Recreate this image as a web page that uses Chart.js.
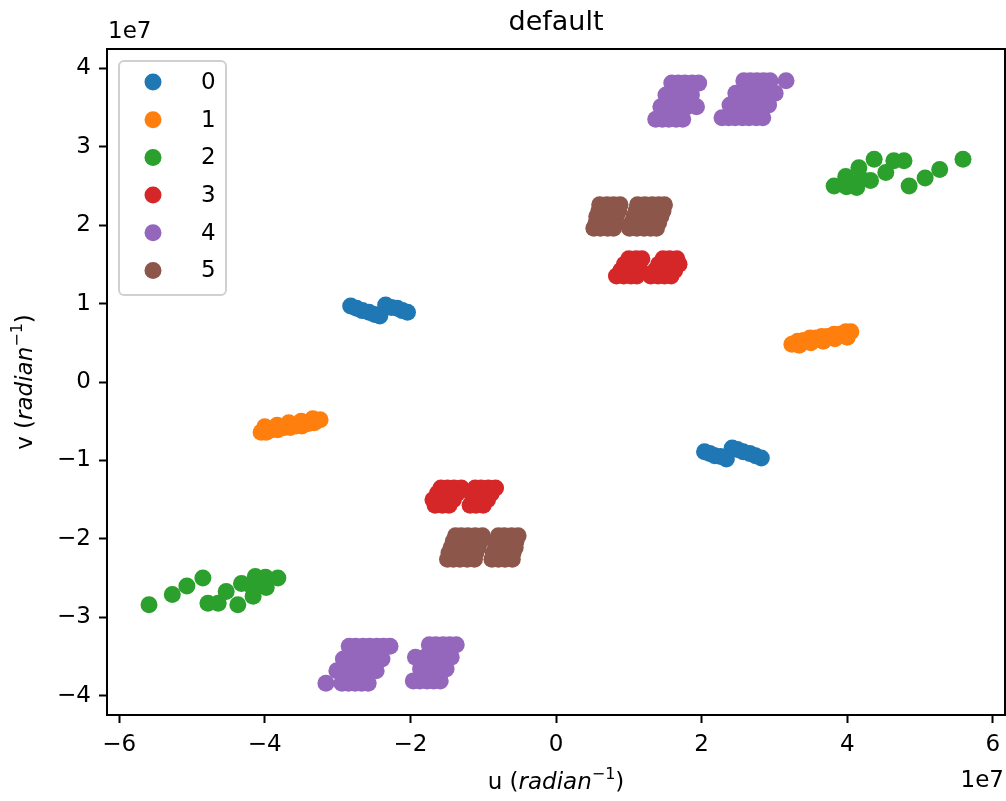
<!DOCTYPE html>
<html>
<head>
<meta charset="utf-8">
<script src="https://cdn.jsdelivr.net/npm/chart.js@4/dist/chart.umd.min.js"></script>
<style>
  html, body { margin: 0; padding: 0; background: #fff; }
  #wrap { width: 1006px; height: 801px; position: relative; }
</style>
</head>
<body>
<div id="wrap"><canvas id="c" width="1006" height="801"></canvas></div>
<script>
// uv coverage per baseline group, in units of 1e7 radian^-1
const seriesLabels = ['0', '1', '2', '3', '4', '5'];
const seriesColors = ['#1f77b4', '#ff7f0e', '#2ca02c', '#d62728', '#9467bd', '#8c564b'];
const xTicks = [-6, -4, -2, 0, 2, 4, 6];
const yTicks = [-4, -3, -2, -1, 0, 1, 2, 3, 4];
const titleText = 'default';
const offsetText = '1e7';

const uv0 = [
  [-2.82, 0.97], [-2.74, 0.94], [-2.66, 0.91], [-2.57, 0.89], [-2.49, 0.86], [-2.42, 0.84],
  [-2.34, 0.98], [-2.26, 0.95], [-2.18, 0.94], [-2.11, 0.91], [-2.04, 0.89],
  [2.82, -0.97], [2.74, -0.94], [2.66, -0.91], [2.57, -0.89], [2.49, -0.86], [2.42, -0.84],
  [2.34, -0.98], [2.26, -0.95], [2.18, -0.94], [2.11, -0.91], [2.04, -0.89]
];

const uv1 = [
  [3.24, 0.48], [3.32, 0.52], [3.40, 0.53], [3.49, 0.56], [3.57, 0.56], [3.65, 0.58],
  [3.73, 0.58], [3.82, 0.61], [3.90, 0.61], [3.98, 0.64], [4.05, 0.64],
  [3.34, 0.47], [3.50, 0.50], [3.67, 0.52], [3.83, 0.55], [4.00, 0.57],
  [-3.24, -0.48], [-3.32, -0.52], [-3.40, -0.53], [-3.49, -0.56], [-3.57, -0.56], [-3.65, -0.58],
  [-3.73, -0.58], [-3.82, -0.61], [-3.90, -0.61], [-3.98, -0.64], [-4.05, -0.64],
  [-3.34, -0.47], [-3.50, -0.50], [-3.67, -0.52], [-3.83, -0.55], [-4.00, -0.57]
];

const uv2 = [
  [3.82, 2.50], [3.98, 2.62], [4.16, 2.73], [4.37, 2.84], [4.13, 2.48], [4.32, 2.57],
  [4.53, 2.67], [4.64, 2.82], [4.78, 2.82], [4.85, 2.50], [5.07, 2.60], [5.27, 2.71],
  [5.59, 2.84], [3.99, 2.49], [4.19, 2.59],
  [-3.82, -2.50], [-3.98, -2.62], [-4.16, -2.73], [-4.37, -2.84], [-4.13, -2.48], [-4.32, -2.57],
  [-4.53, -2.67], [-4.64, -2.82], [-4.78, -2.82], [-4.85, -2.50], [-5.07, -2.60], [-5.27, -2.71],
  [-5.59, -2.84], [-3.99, -2.49], [-4.19, -2.59]
];

const uv3 = [
  [0.83, 1.35], [0.93, 1.35], [1.03, 1.35], [1.11, 1.35],
  [0.89, 1.42], [0.99, 1.42], [1.08, 1.42], [1.16, 1.42],
  [0.94, 1.50], [1.04, 1.50], [1.14, 1.50],
  [1.00, 1.57], [1.10, 1.57], [1.18, 1.57],
  [1.30, 1.35], [1.40, 1.35], [1.49, 1.35], [1.58, 1.35],
  [1.36, 1.42], [1.45, 1.42], [1.55, 1.42], [1.63, 1.42],
  [1.41, 1.50], [1.51, 1.50], [1.60, 1.50], [1.69, 1.50],
  [1.47, 1.57], [1.56, 1.57], [1.66, 1.57],
  [-0.83, -1.35], [-0.93, -1.35], [-1.03, -1.35], [-1.11, -1.35],
  [-0.89, -1.42], [-0.99, -1.42], [-1.08, -1.42], [-1.16, -1.42],
  [-0.94, -1.50], [-1.04, -1.50], [-1.14, -1.50],
  [-1.00, -1.57], [-1.10, -1.57], [-1.18, -1.57],
  [-1.30, -1.35], [-1.40, -1.35], [-1.49, -1.35], [-1.58, -1.35],
  [-1.36, -1.42], [-1.45, -1.42], [-1.55, -1.42], [-1.63, -1.42],
  [-1.41, -1.50], [-1.51, -1.50], [-1.60, -1.50], [-1.69, -1.50],
  [-1.47, -1.57], [-1.56, -1.57], [-1.66, -1.57]
];

const uv4 = [
  [1.59, 3.81], [1.68, 3.81], [1.77, 3.81], [1.87, 3.81], [1.96, 3.81],
  [1.51, 3.66], [1.60, 3.66], [1.69, 3.66], [1.78, 3.66], [1.86, 3.66],
  [1.44, 3.51], [1.53, 3.51], [1.62, 3.51], [1.71, 3.51], [1.80, 3.51], [1.93, 3.51],
  [1.37, 3.35], [1.46, 3.35], [1.55, 3.35], [1.65, 3.35], [1.74, 3.35],
  [2.58, 3.84], [2.67, 3.84], [2.76, 3.84], [2.85, 3.84], [2.94, 3.84], [3.16, 3.84],
  [2.47, 3.68], [2.56, 3.68], [2.65, 3.68], [2.74, 3.68], [2.83, 3.68], [2.92, 3.68], [3.01, 3.68],
  [2.39, 3.53], [2.48, 3.53], [2.57, 3.53], [2.66, 3.53], [2.74, 3.53], [2.83, 3.53], [2.92, 3.53],
  [2.28, 3.37], [2.37, 3.37], [2.46, 3.37], [2.56, 3.37], [2.65, 3.37], [2.75, 3.37], [2.84, 3.37],
  [-1.59, -3.81], [-1.68, -3.81], [-1.77, -3.81], [-1.87, -3.81], [-1.96, -3.81],
  [-1.51, -3.66], [-1.60, -3.66], [-1.69, -3.66], [-1.78, -3.66], [-1.86, -3.66],
  [-1.44, -3.51], [-1.53, -3.51], [-1.62, -3.51], [-1.71, -3.51], [-1.80, -3.51], [-1.93, -3.51],
  [-1.37, -3.35], [-1.46, -3.35], [-1.55, -3.35], [-1.65, -3.35], [-1.74, -3.35],
  [-2.58, -3.84], [-2.67, -3.84], [-2.76, -3.84], [-2.85, -3.84], [-2.94, -3.84], [-3.16, -3.84],
  [-2.47, -3.68], [-2.56, -3.68], [-2.65, -3.68], [-2.74, -3.68], [-2.83, -3.68], [-2.92, -3.68], [-3.01, -3.68],
  [-2.39, -3.53], [-2.48, -3.53], [-2.57, -3.53], [-2.66, -3.53], [-2.74, -3.53], [-2.83, -3.53], [-2.92, -3.53],
  [-2.28, -3.37], [-2.37, -3.37], [-2.46, -3.37], [-2.56, -3.37], [-2.65, -3.37], [-2.75, -3.37], [-2.84, -3.37]
];

const uv5 = [
  [0.52, 1.96], [0.61, 1.96], [0.71, 1.96], [0.79, 1.96],
  [0.55, 2.03], [0.64, 2.03], [0.74, 2.03], [0.82, 2.03],
  [0.56, 2.11], [0.66, 2.11], [0.75, 2.11], [0.83, 2.11],
  [0.59, 2.18], [0.68, 2.18], [0.78, 2.18], [0.86, 2.18],
  [0.60, 2.26], [0.70, 2.26], [0.79, 2.26], [0.88, 2.26],
  [1.01, 1.96], [1.11, 1.96], [1.21, 1.96], [1.30, 1.96], [1.38, 1.96],
  [1.04, 2.03], [1.14, 2.03], [1.23, 2.03], [1.33, 2.03], [1.41, 2.03],
  [1.07, 2.11], [1.16, 2.11], [1.26, 2.11], [1.36, 2.11], [1.44, 2.11],
  [1.10, 2.18], [1.19, 2.18], [1.29, 2.18], [1.38, 2.18], [1.47, 2.18],
  [1.12, 2.26], [1.22, 2.26], [1.32, 2.26], [1.41, 2.26], [1.49, 2.26],
  [-0.52, -1.96], [-0.61, -1.96], [-0.71, -1.96], [-0.79, -1.96],
  [-0.55, -2.03], [-0.64, -2.03], [-0.74, -2.03], [-0.82, -2.03],
  [-0.56, -2.11], [-0.66, -2.11], [-0.75, -2.11], [-0.83, -2.11],
  [-0.59, -2.18], [-0.68, -2.18], [-0.78, -2.18], [-0.86, -2.18],
  [-0.60, -2.26], [-0.70, -2.26], [-0.79, -2.26], [-0.88, -2.26],
  [-1.01, -1.96], [-1.11, -1.96], [-1.21, -1.96], [-1.30, -1.96], [-1.38, -1.96],
  [-1.04, -2.03], [-1.14, -2.03], [-1.23, -2.03], [-1.33, -2.03], [-1.41, -2.03],
  [-1.07, -2.11], [-1.16, -2.11], [-1.26, -2.11], [-1.36, -2.11], [-1.44, -2.11],
  [-1.10, -2.18], [-1.19, -2.18], [-1.29, -2.18], [-1.38, -2.18], [-1.47, -2.18],
  [-1.12, -2.26], [-1.22, -2.26], [-1.32, -2.26], [-1.41, -2.26], [-1.49, -2.26]
];

const seriesPoints = [uv0, uv1, uv2, uv3, uv4, uv5];

const FONT = '"DejaVu Sans", "Liberation Sans", sans-serif';
const TICK_SIZE = 23;
const POINT_R = 8.5;

function fmtTick(v) {
  return v < 0 ? '\u2212' + Math.abs(v) : String(v);
}

function drawParts(ctx, parts, x, y) {
  let total = 0;
  parts.forEach(p => { ctx.font = p.font; p.w = ctx.measureText(p.t).width; total += p.w; });
  let cx = x - total / 2;
  ctx.textAlign = 'left';
  ctx.textBaseline = 'alphabetic';
  parts.forEach(p => { ctx.font = p.font; ctx.fillText(p.t, cx, y + (p.dy || 0)); cx += p.w; });
}

function labelParts(letter) {
  return [
    { t: letter + ' (', font: TICK_SIZE + 'px ' + FONT },
    { t: 'radian', font: 'italic ' + TICK_SIZE + 'px ' + FONT },
    { t: '\u22121', font: '16px ' + FONT, dy: -10 },
    { t: ')', font: TICK_SIZE + 'px ' + FONT }
  ];
}

// frame, title, offset text, axis labels and legend
const decorations = {
  id: 'decorations',
  afterDraw(chart) {
    const ctx = chart.ctx;
    const a = chart.chartArea;
    ctx.save();
    ctx.strokeStyle = '#000';
    ctx.lineWidth = 2;
    ctx.strokeRect(a.left, a.top, a.right - a.left, a.bottom - a.top);

    ctx.fillStyle = '#000';
    ctx.textAlign = 'center';
    ctx.textBaseline = 'alphabetic';
    ctx.font = '27px ' + FONT;
    ctx.fillText(titleText, (a.left + a.right) / 2, 30);

    ctx.font = TICK_SIZE + 'px ' + FONT;
    ctx.textAlign = 'left';
    ctx.fillText(offsetText, a.left + 1, 38);
    ctx.textAlign = 'right';
    ctx.fillText(offsetText, a.right - 1, 787);

    drawParts(ctx, labelParts('u'), (a.left + a.right) / 2, 789);

    ctx.save();
    ctx.translate(24, (a.top + a.bottom) / 2);
    ctx.rotate(-Math.PI / 2);
    drawParts(ctx, labelParts('v'), 0, 8);
    ctx.restore();

    // legend box
    const bx = a.left + 12, by = a.top + 12, bw = 107, bh = 234;
    ctx.beginPath();
    ctx.roundRect(bx, by, bw, bh, 5);
    ctx.fillStyle = 'rgba(255,255,255,0.8)';
    ctx.fill();
    ctx.strokeStyle = '#d0d0d0';
    ctx.lineWidth = 2;
    ctx.stroke();
    ctx.font = TICK_SIZE + 'px ' + FONT;
    ctx.textAlign = 'left';
    ctx.textBaseline = 'middle';
    seriesLabels.forEach((lab, i) => {
      const yy = by + 21 + i * 37.7;
      ctx.beginPath();
      ctx.arc(bx + 34, yy, POINT_R, 0, Math.PI * 2);
      ctx.fillStyle = seriesColors[i];
      ctx.fill();
      ctx.fillStyle = '#000';
      ctx.fillText(lab, bx + 82, yy + 1);
    });
    ctx.restore();
  }
};

const datasets = seriesPoints.map((pts, i) => ({
  label: seriesLabels[i],
  data: pts.map(p => ({ x: p[0], y: p[1] })),
  backgroundColor: seriesColors[i],
  borderColor: seriesColors[i],
  pointRadius: POINT_R,
  pointBorderWidth: 0,
  pointHoverRadius: POINT_R,
  showLine: false,
  order: seriesPoints.length - i
}));

const tickCfg = (size) => ({
  font: { family: FONT, size: size },
  color: '#000',
  padding: 8,
  maxRotation: 0,
  autoSkip: false,
  callback: (v) => fmtTick(v)
});

const gridCfg = {
  display: true,
  drawOnChartArea: false,
  drawTicks: true,
  tickLength: 8,
  tickWidth: 2,
  tickColor: '#000'
};

new Chart(document.getElementById('c'), {
  type: 'scatter',
  data: { datasets },
  options: {
    responsive: false,
    devicePixelRatio: 1,
    animation: false,
    events: [],
    layout: { autoPadding: false, padding: { top: 49, right: 1, left: 0, bottom: 0 } },
    plugins: { legend: { display: false }, tooltip: { enabled: false }, title: { display: false } },
    scales: {
      x: {
        type: 'linear', min: -6.167, max: 6.167,
        afterBuildTicks: (s) => { s.ticks = xTicks.map(v => ({ value: v })); },
        afterFit: (s) => { s.height = 86; s.paddingLeft = 0; s.paddingRight = 0; },
        ticks: tickCfg(TICK_SIZE),
        grid: gridCfg,
        border: { display: false }
      },
      y: {
        type: 'linear', min: -4.245, max: 4.245,
        afterBuildTicks: (s) => { s.ticks = yTicks.map(v => ({ value: v })); },
        afterFit: (s) => { s.width = 107; s.paddingTop = 0; s.paddingBottom = 0; },
        ticks: tickCfg(TICK_SIZE),
        grid: gridCfg,
        border: { display: false }
      }
    }
  },
  plugins: [decorations]
});
</script>
</body>
</html>
